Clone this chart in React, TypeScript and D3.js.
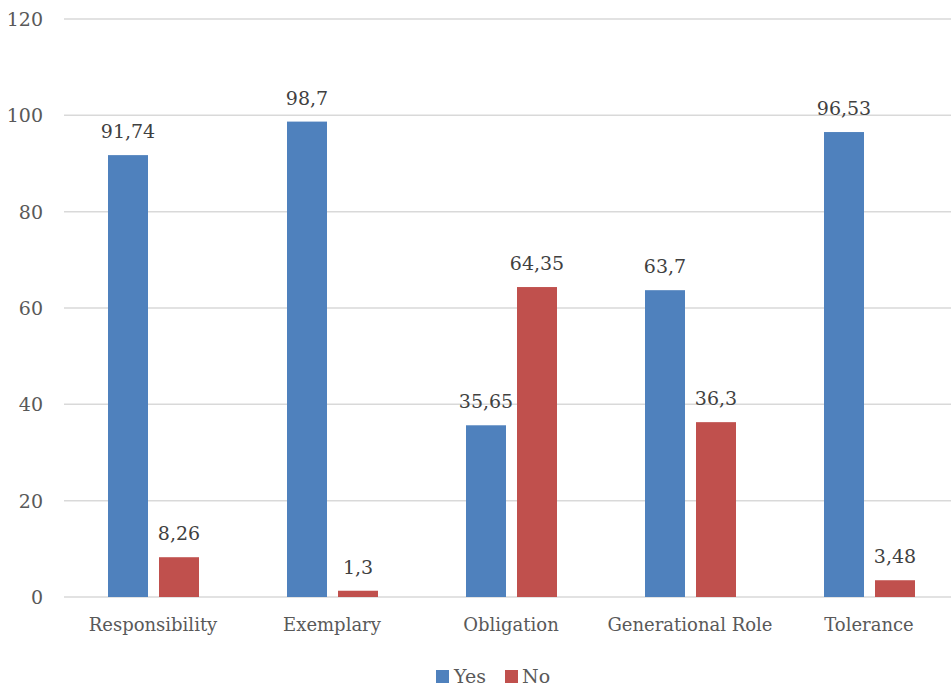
import React from "react"
import * as d3 from "d3"

const categories = ["Responsibility", "Exemplary", "Obligation", "Generational Role", "Tolerance"]
const yesValues = [91.74, 98.7, 35.65, 63.7, 96.53]
const noValues = [8.26, 1.3, 64.35, 36.3, 3.48]
const yTicks = [0, 20, 40, 60, 80, 100, 120]
const seriesNames = ["Yes", "No"]

const width = 951
const height = 687
const margin = { top: 19, right: 0, bottom: 90, left: 64 }
const colors = ["#4F81BD", "#C0504D"]
const font = "'DejaVu Serif', serif"

const fmt = (v: number) => String(v).replace(".", ",")

const App = () => {
  // bands run slightly past the right edge, like the original
  const x = d3
    .scaleBand()
    .domain(categories)
    .range([63.5, 958.5])

  const y = d3
    .scaleLinear()
    .domain([0, 120])
    .range([height - margin.bottom, margin.top])

  const barW = 40
  const gap = 10
  const series = [yesValues, noValues]
  const txt = { fontFamily: font }

  return (
    <svg
      width={width}
      height={height}
      style={{ position: "absolute", left: 0, top: 0, background: "#fff" }}
    >
      {/* grid */}
      {yTicks.map(t => (
        <g key={t}>
          <line
            x1={margin.left}
            x2={width - margin.right}
            y1={y(t)}
            y2={y(t)}
            stroke="#d9d9d9"
            strokeWidth={1.5}
          />
          <text x={43} y={y(t) + 7} textAnchor="end" fontSize={19} fill="#595959" style={txt}>
            {t}
          </text>
        </g>
      ))}

      {/* bars */}
      {categories.map((c, i) => {
        const cx = x(c)! + x.bandwidth() / 2
        return (
          <g key={c}>
            {series.map((vals, s) => {
              const bx = s === 0 ? cx - gap / 2 - barW : cx + gap / 2 + 1
              return (
                <g key={s}>
                  <rect
                    x={bx}
                    y={y(vals[i])}
                    width={barW}
                    height={y(0) - y(vals[i])}
                    fill={colors[s]}
                  />
                  <text
                    x={bx + barW / 2}
                    y={y(vals[i]) - 17}
                    textAnchor="middle"
                    fontSize={19}
                    fill="#404040"
                    style={txt}
                  >
                    {fmt(vals[i])}
                  </text>
                </g>
              )
            })}
            <text x={cx} y={631} textAnchor="middle" fontSize={18} fill="#595959" style={txt}>
              {c}
            </text>
          </g>
        )
      })}

      {/* legend */}
      <g style={txt}>
        <rect x={436} y={670} width={13} height={13} fill={colors[0]} />
        <text x={454} y={683} fontSize={19} fill="#595959">{seriesNames[0]}</text>
        <rect x={505} y={670} width={13} height={13} fill={colors[1]} />
        <text x={522} y={683} fontSize={19} fill="#595959">{seriesNames[1]}</text>
      </g>
    </svg>
  )
}

export default App
